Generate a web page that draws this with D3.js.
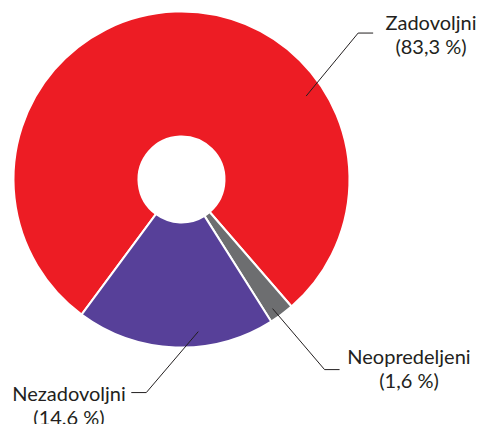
<!DOCTYPE html>
<html lang="sr">
<head>
<meta charset="UTF-8">
<title>Zadovoljstvo</title>
<script src="https://cdn.jsdelivr.net/npm/d3@7"></script>
<style>
    body { margin: 0; background: #fff; }
    svg text { font-family: Lato, "Open Sans", sans-serif; fill: #231f20; }
</style>
</head>
<body>
<svg id="chart" width="479" height="424"></svg>
<script>
    // slice shares as drawn in the picture (the printed labels say 83,3 / 1,6 / 14.6)
    const categories = ["Zadovoljni", "Neopredeljeni", "Nezadovoljni"];
    const shares = [78.5, 2.4, 19.1];
    const labelValues = ["(83,3 %)", "(1,6 %)", "(14.6 %)"];
    const colors = ["#ed1c24", "#6d6e70", "#574099"];

    const data = categories.map((c, i) => ({ name: c, value: shares[i], label: labelValues[i], color: colors[i] }));

    const svg = d3.select("#chart");
    const cx = 181.5, cy = 179.5;
    const outer = 168, inner = 43;

    const startDeg = 216.5;
    const pie = d3.pie()
        .sort(null)
        .value(d => d.value)
        .startAngle(startDeg * Math.PI / 180)
        .endAngle((startDeg + 360) * Math.PI / 180);

    const arc = d3.arc().innerRadius(inner).outerRadius(outer);
    const arcs = pie(data);

    const g = svg.append("g").attr("transform", `translate(${cx},${cy})`);

    g.selectAll("path")
        .data(arcs)
        .enter().append("path")
        .attr("d", arc)
        .attr("fill", d => d.data.color)
        .attr("stroke", "#fff")
        .attr("stroke-width", 2)
        .attr("stroke-linejoin", "round");

    // leader lines: anchor angle/radius inside the slice, elbow offset, horizontal tick, label spot
    const leaders = [
        { deg: 56.2, r: 150, dx: 52, dy: -63, h: 15, tx: 431, ty: 30 },
        { deg: 144.8, r: 158, dx: 52, dy: 61, h: 15, tx: 409, ty: 364 },
        { deg: 173.7, r: 153, dx: -52, dy: 61, h: -15, tx: 69, ty: 401 }
    ];

    arcs.forEach((a, i) => {
        const L = leaders[i];
        const ang = L.deg * Math.PI / 180;
        const x0 = cx + L.r * Math.sin(ang);
        const y0 = cy - L.r * Math.cos(ang);
        const x1 = x0 + L.dx, y1 = y0 + L.dy;
        svg.append("polyline")
            .attr("points", [[x0, y0], [x1, y1], [x1 + L.h, y1]].map(p => p.join(",")).join(" "))
            .attr("fill", "none")
            .attr("stroke", "#231f20")
            .attr("stroke-width", 1);

        const t = svg.append("text")
            .attr("x", L.tx)
            .attr("y", L.ty)
            .attr("text-anchor", "middle")
            .style("font-size", "20px");
        t.append("tspan").attr("x", L.tx).text(a.data.name);
        t.append("tspan").attr("x", L.tx).attr("dy", 24).text(a.data.label);
    });
</script>
</body>
</html>
